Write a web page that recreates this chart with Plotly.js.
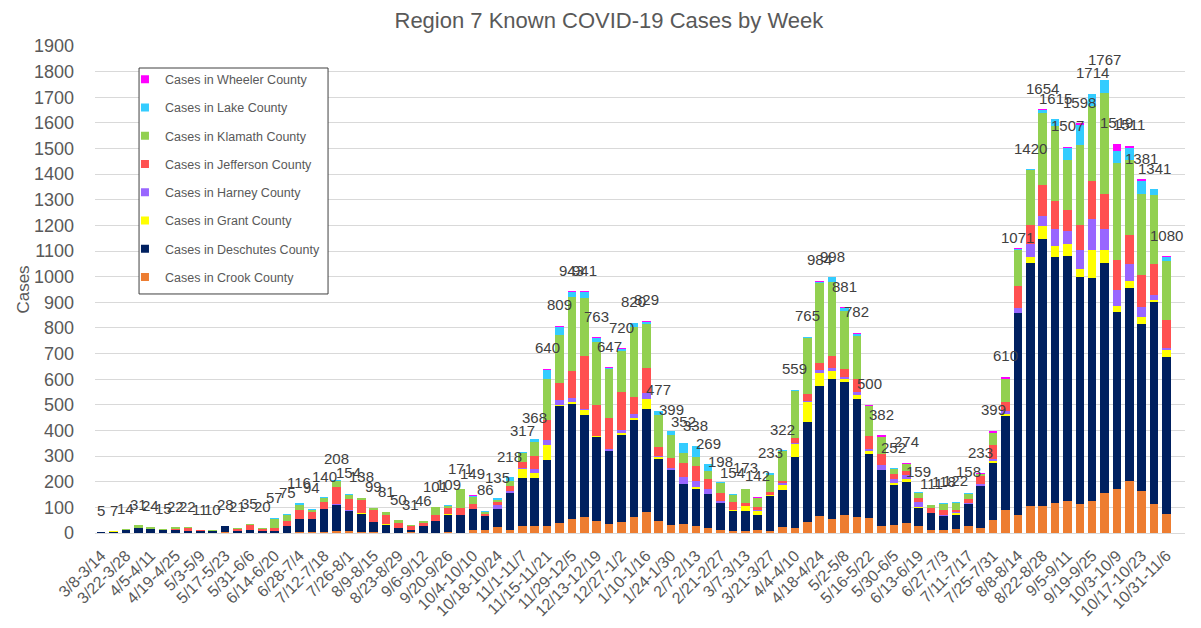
<!DOCTYPE html>
<html>
<head>
<meta charset="utf-8">
<script src="https://cdn.plot.ly/plotly-3.0.1.min.js"></script>
<style>html,body{margin:0;padding:0;background:#fff;}#chart{width:1201px;height:628px;}</style>
</head>
<body>
<div id="chart"></div>
<script>
const weeks = ["3/8-3/14","3/15-3/21","3/22-3/28","3/29-4/4","4/5-4/11","4/12-4/18","4/19-4/25","4/26-5/2","5/3-5/9","5/10-5/16",
"5/17-5/23","5/24-5/30","5/31-6/6","6/7-6/13","6/14-6/20","6/21-6/27","6/28-7/4","7/5-7/11","7/12-7/18","7/19-7/25",
"7/26-8/1","8/2-8/8","8/9-8/15","8/16-8/22","8/23-8/29","8/30-9/5","9/6-9/12","9/13-9/19","9/20-9/26","9/27-10/3",
"10/4-10/10","10/11-10/17","10/18-10/24","10/25-10/31","11/1-11/7","11/8-11/14","11/15-11/21","11/22-11/28","11/29-12/5","12/6-12/12",
"12/13-12/19","12/20-12/26","12/27-1/2","1/3-1/9","1/10-1/16","1/17-1/23","1/24-1/30","1/31-2/6","2/7-2/13","2/14-2/20",
"2/21-2/27","2/28-3/6","3/7-3/13","3/14-3/20","3/21-3/27","3/28-4/3","4/4-4/10","4/11-4/17","4/18-4/24","4/25-5/1",
"5/2-5/8","5/9-5/15","5/16-5/22","5/23-5/29","5/30-6/5","6/6-6/12","6/13-6/19","6/20-6/26","6/27-7/3","7/4-7/10",
"7/11-7/17","7/18-7/24","7/25-7/31","8/1-8/7","8/8-8/14","8/15-8/21","8/22-8/28","8/29-9/4","9/5-9/11","9/12-9/18",
"9/19-9/25","9/26-10/2","10/3-10/9","10/10-10/16","10/17-10/23","10/24-10/30","10/31-11/6"];

const tickLabels = ["3/8-3/14","3/22-3/28","4/5-4/11","4/19-4/25","5/3-5/9","5/17-5/23","5/31-6/6","6/14-6/20","6/28-7/4","7/12-7/18",
"7/26-8/1","8/9-8/15","8/23-8/29","9/6-9/12","9/20-9/26","10/4-10/10","10/18-10/24","11/1-11/7","11/15-11/21","11/29-12/5",
"12/13-12/19","12/27-1/2","1/10-1/16","1/24-1/30","2/7-2/13","2/21-2/27","3/7-3/13","3/21-3/27","4/4-4/10","4/18-4/24",
"5/2-5/8","5/16-5/22","5/30-6/5","6/13-6/19","6/27-7/3","7/11-7/17","7/25-7/31","8/8-8/14","8/22-8/28","9/5-9/11",
"9/19-9/25","10/3-10/9","10/17-10/23","10/31-11/6"];

const crook = [0,0,0,0,0,0,0,1,0,0, 3,0,0,0,0,1,5,3,4, 6,9,5,3,1,0,3,0,0,2,1,10,10,
22,12,26,29,26,39,56,61,45,35,43,61,81,48,30,35, 29,19,10,6,6,10,6,22,19,43,68,56,71,61,60,
29,32,38,26,10,13,16,28, 20,49,90,69,104, 104,117,126,114,126,156,173,202,163,113,75];

const deschutes = [5,5,12,19,16,10,10,5,6,7, 23,8,12,9,7,28,51,50,88, 104,76,69,38,32,19,10,26,48,68,70,82,58,
73,145,188,186,260,455,447,399,329,286,340,381,404,242,217,157, 144,134,106,80,81,61,137,147,279,390,504,544,519,461,250,
216,156,162,72,67,55,56,85, 164,224,367,788,949, 1043,958,956,885,869,897,689,754,652,787,612];

const grant = [0,2,0,0,0,0,0,0,0,0, 0,0,0,0,0,0,0,0,0, 0,0,5,0,3,0,0,0,0,3,0,0,0,
0,0,35,19,58,6,10,19,5,0,6,6,39,5,0,0, 6,0,0,4,19,16,6,19,48,77,52,34,10,17,9,
0,9,9,3,0,0,5,0, 0,8,6,2,24, 49,43,45,31,110,52,25,28,26,10,26];

const harney = [0,0,0,0,0,0,0,0,0,0, 0,0,0,0,0,0,0,1,0, 4,3,0,0,0,0,0,0,0,0,0,0,0,
16,6,6,16,19,17,13,3,0,6,13,18,22,4,8,25, 25,18,9,0,0,3,0,6,4,4,13,9,9,10,8,
19,12,16,19,2,2,3,3, 8,9,13,19,51, 39,69,50,75,121,81,60,65,41,20,9];

const jefferson = [0,0,0,0,0,0,4,12,5,0, 3,8,19,6,13,17,32,28,30, 64,46,51,49,36,19,14,13,23,25,26,21,8,
9,19,23,49,78,70,108,209,121,121,147,66,97,36,39,56, 56,39,32,31,13,10,10,9,22,29,26,48,29,51,50,
44,22,17,16,17,21,10,17, 30,52,36,85,75, 121,109,82,98,149,138,117,112,126,119,108];

const klamath = [0,0,2,12,8,5,8,4,0,3, 0,2,4,3,35,25,20,8,13, 24,15,8,9,9,12,4,7,30,6,74,28,7,
9,22,35,56,160,186,286,226,247,192,160,272,173,125,87,39, 36,33,37,27,51,37,68,115,183,218,311,290,230,169,118,
68,20,29,19,12,24,26,20, 8,47,87,141,213, 282,293,195,312,289,392,379,295,316,271,230];

const lake = [0,0,0,0,0,0,0,0,0,0, 0,3,0,2,2,4,8,4,5, 6,5,0,0,0,0,0,0,0,5,0,3,3,
6,14,4,13,35,32,19,23,13,5,8,16,9,17,16,40, 42,26,4,6,0,0,6,4,4,4,6,17,8,9,2,
0,1,0,4,3,3,6,5, 0,0,3,5,4, 11,26,50,75,50,51,46,46,51,21,17];

const wheeler = [0,0,0,0,0,0,0,0,0,0, 0,0,0,0,0,0,0,0,0, 0,0,0,0,0,0,0,0,0,0,0,5,0,
0,0,0,0,4,4,4,4,3,2,3,0,4,0,2,0, 0,0,0,0,3,5,0,0,0,0,4,0,5,4,3,
6,0,3,0,0,0,0,0, 3,10,8,3,0, 5,0,3,8,0,0,30,9,6,0,3];

const totals = [5,7,14,31,24,15,22,22,11,10, 28,21,35,20,57,75,116,94,140, 208,154,138,99,81,50,31,46,101,109,171,149,86,
135,218,317,368,640,809,943,941,763,647,720,820,829,477,399,352, 338,269,198,154,173,142,233,322,559,765,984,998,881,782,500,
382,252,274,159,111,118,122,158, 233,399,610,1071,1420, 1654,1615,1507,1598,1714,1767,1519,1511,1381,1341,1080];

const series = [
  {name: "Cases in Crook County", values: crook, color: "#ED7D31"},
  {name: "Cases in Deschutes County", values: deschutes, color: "#002060"},
  {name: "Cases in Grant County", values: grant, color: "#FFFF00"},
  {name: "Cases in Harney County", values: harney, color: "#9966FF"},
  {name: "Cases in Jefferson County", values: jefferson, color: "#FF5050"},
  {name: "Cases in Klamath County", values: klamath, color: "#92D050"},
  {name: "Cases in Lake County", values: lake, color: "#33CCFF"},
  {name: "Cases in Wheeler County", values: wheeler, color: "#FF00FF"}
];

const traces = series.map(s => ({
  type: "bar", name: s.name, x: weeks, y: s.values,
  marker: {color: s.color, line: {width: 0}},
  showlegend: false, hoverinfo: "x+y+name"
}));

// legend entries (small square swatches), top entry first
series.slice().reverse().forEach((s, i) => {
  traces.push({
    type: "scatter", mode: "markers", name: s.name, x: [null], y: [null],
    marker: {symbol: "square", size: 8, color: s.color},
    showlegend: true, legendgroup: "g" + i, hoverinfo: "skip"
  });
});

const annotations = totals.map((t, i) => ({
  x: weeks[i], y: t, xref: "x", yref: "y", text: String(t), showarrow: false,
  yshift: 21, font: {family: "Liberation Sans, Arial, sans-serif", size: 15, color: "#404040"}
}));

const layout = {
  width: 1201, height: 628,
  margin: {l: 95, r: 16, t: 46, b: 95},
  paper_bgcolor: "#ffffff", plot_bgcolor: "#ffffff",
  barmode: "stack", bargap: 0.31,
  font: {family: "Liberation Sans, Arial, sans-serif", color: "#595959"},
  title: {text: "Region 7 Known COVID-19 Cases by Week", x: 0.507, xanchor: "center", y: 0.968, yanchor: "middle",
          font: {size: 22, color: "#595959", family: "Liberation Sans, Arial, sans-serif"}},
  xaxis: {type: "category", tickvals: tickLabels, ticktext: tickLabels, tickangle: -45,
          tickfont: {size: 16, color: "#595959"}, showgrid: false, showline: true, linecolor: "#D9D9D9",
          linewidth: 1, ticks: "", ticklabelstandoff: 6, zeroline: false, fixedrange: true},
  yaxis: {range: [0, 1900], dtick: 100, tick0: 0, showgrid: true, gridcolor: "#D9D9D9", gridwidth: 1,
          zeroline: false, showline: false, ticks: "", ticklabelstandoff: 20,
          tickfont: {size: 18, color: "#595959"},
          title: {text: "Cases", font: {size: 17, color: "#595959"}, standoff: 0}, fixedrange: true},
  legend: {x: 0.0275, y: 0.962, xanchor: "left", yanchor: "top", bgcolor: "rgba(0,0,0,0)",
           borderwidth: 0, traceorder: "grouped", tracegroupgap: 9,
           font: {size: 12.5, color: "#595959"}},
  shapes: [{type: "rect", xref: "paper", yref: "paper", x0: 0.0404, x1: 0.2138, y0: 0.4908, y1: 0.9548,
            line: {color: "#404040", width: 1}, fillcolor: "#ffffff", layer: "above"}],
  annotations: annotations
};

Plotly.newPlot("chart", traces, layout, {displayModeBar: false, staticPlot: true});
</script>
</body>
</html>
